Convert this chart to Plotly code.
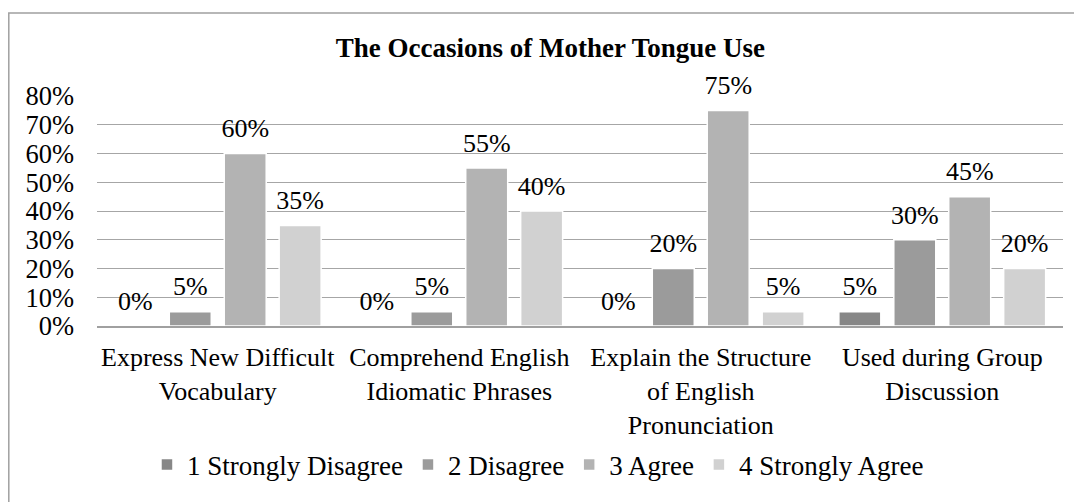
import plotly.graph_objects as go

categories = ["Express New Difficult<br>Vocabulary",
              "Comprehend English<br>Idiomatic Phrases",
              "Explain the Structure<br>of English<br>Pronunciation",
              "Used during Group<br>Discussion"]
series_names = ["1 Strongly Disagree", "2 Disagree", "3 Agree", "4 Strongly Agree"]
strongly_disagree = [0, 0, 0, 5]
disagree = [5, 5, 20, 30]
agree = [60, 55, 75, 45]
strongly_agree = [35, 40, 5, 20]
y_ticks = [0, 10, 20, 30, 40, 50, 60, 70, 80]
y_tick_labels = ["0%", "10%", "20%", "30%", "40%", "50%", "60%", "70%", "80%"]
colors = ["#878787", "#9b9b9b", "#b3b3b3", "#d1d1d1"]

FONT = "Liberation Serif"
W, H = 1074, 494
ML, MR, MT, MB = 89, 19, 88, 176
PW, PH = W - ML - MR, H - MT - MB

fig = go.Figure()
all_series = [strongly_disagree, disagree, agree, strongly_agree]
for name, vals, col in zip(series_names, all_series, colors):
    fig.add_trace(go.Bar(
        x=categories, y=vals, name=name,
        marker=dict(color=col, line=dict(color="white", width=1.5)),
        hoverinfo="skip",
    ))
for name, vals in zip(series_names, all_series):
    fig.add_trace(go.Scatter(
        x=categories, y=vals, mode="markers+text", showlegend=False,
        marker=dict(size=14, opacity=0),
        text=[f"{v}%" for v in vals], textposition="top center",
        textfont=dict(size=26, color="black", family=FONT),
        cliponaxis=False, hoverinfo="skip",
    ))

fig.update_layout(
    width=W, height=H,
    margin=dict(l=ML, r=MR, t=MT, b=MB),
    paper_bgcolor="white", plot_bgcolor="white",
    font=dict(family=FONT, size=26, color="black"),
    title=dict(text="<b>The Occasions of Mother Tongue Use</b>",
               x=0.505, xanchor="center", y=0.919, yanchor="middle",
               font=dict(size=27, family=FONT, color="black")),
    barmode="group", bargap=0.09, bargroupgap=0.236,
    scattermode="group", scattergap=0.09,
    showlegend=True,
    legend=dict(orientation="h", x=0.4565, xanchor="center", y=-0.604, yanchor="middle",
                font=dict(size=27, family=FONT), itemwidth=30,
                traceorder="normal"),
    xaxis=dict(showgrid=False, showline=True, linecolor="#a0a0a0", linewidth=1.5,
               layer="above traces",
               ticks="", tickfont=dict(size=26, family=FONT), ticklabelstandoff=7,
               automargin=False),
    yaxis=dict(range=[0, 80], tickmode="array", tickvals=y_ticks, ticktext=y_tick_labels,
               showgrid=True, gridcolor="#a6a6a6", gridwidth=1,
               zeroline=False,
               tickfont=dict(size=26.5, family=FONT), ticks="", ticklabelstandoff=22,
               automargin=False),
    shapes=[dict(type="rect", xref="paper", yref="paper",
                 x0=(0.8 - ML) / PW, x1=(W + 20 - ML) / PW,
                 y0=(PH - (H + 20 - MT)) / PH, y1=(PH - (5 - MT)) / PH,
                 line=dict(color="#a0a0a0", width=1.5), layer="below")],
)

fig.write_html("out.html")
